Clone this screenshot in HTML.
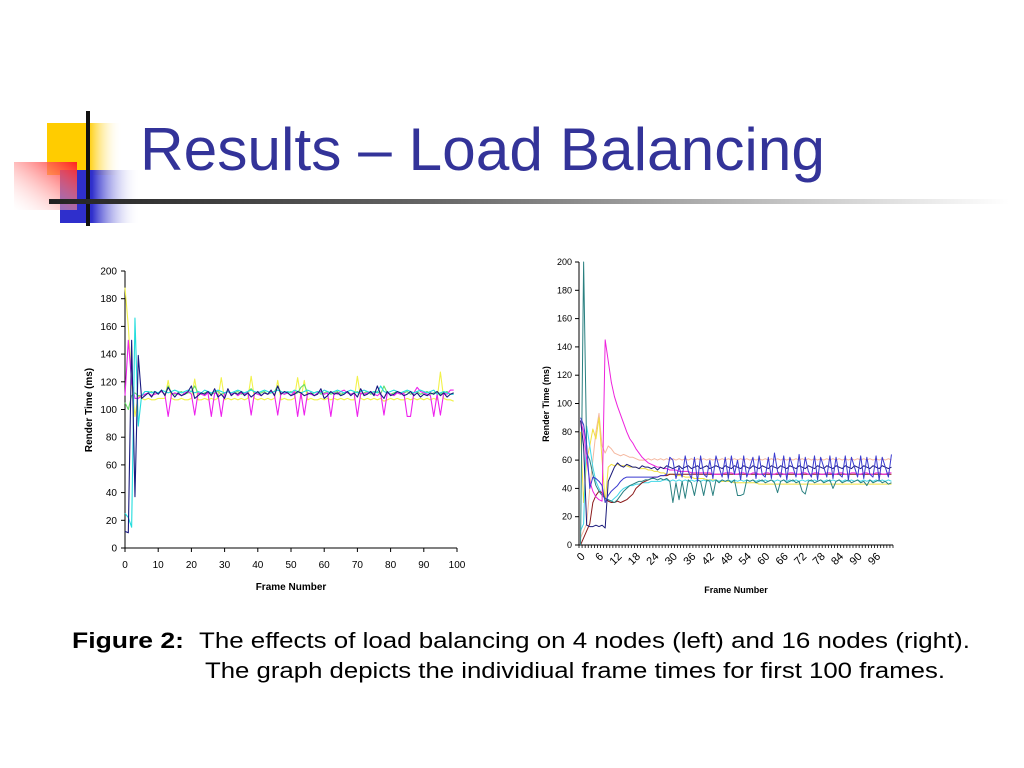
<!DOCTYPE html>
<html><head><meta charset="utf-8"><style>
html,body{margin:0;padding:0;background:#fff;}
svg{display:block;font-family:"Liberation Sans",Arial,sans-serif;}
</style></head><body>
<svg id="page" width="1024" height="768" viewBox="0 0 1024 768">
<defs>
<linearGradient id="gy" x1="0" x2="1"><stop offset="0" stop-color="#ffcc00"/><stop offset="0.55" stop-color="#ffcc00"/><stop offset="1" stop-color="#fff" stop-opacity="0"/></linearGradient>
<linearGradient id="gr" x1="1" y1="0" x2="0" y2="1"><stop offset="0" stop-color="#ff2020"/><stop offset="1" stop-color="#fff" stop-opacity="0.2"/></linearGradient>
<linearGradient id="gb" x1="0" x2="1"><stop offset="0" stop-color="#2f2fcc"/><stop offset="0.4" stop-color="#2f2fcc"/><stop offset="1" stop-color="#fff" stop-opacity="0"/></linearGradient>
<linearGradient id="gl" x1="0" x2="1"><stop offset="0" stop-color="#222"/><stop offset="0.4" stop-color="#666"/><stop offset="1" stop-color="#fff"/></linearGradient>
</defs>
<g>
<rect x="47" y="123" width="75" height="52" fill="url(#gy)"/>
<rect x="60" y="170" width="80" height="53" fill="url(#gb)"/>
<rect x="14" y="162" width="63" height="48" fill="url(#gr)"/>
<rect x="86" y="111" width="4" height="115" fill="#111"/>
</g>
<rect x="49" y="199" width="960" height="5" fill="url(#gl)"/>
<text x="140" y="170" font-size="60" fill="#333399" textLength="685" lengthAdjust="spacingAndGlyphs">Results – Load Balancing</text>
<g id="left"></g>
<g id="right"></g>
<text x="72" y="648" font-size="22" fill="#000"><tspan font-weight="bold" textLength="112" lengthAdjust="spacingAndGlyphs">Figure 2:</tspan><tspan x="199" textLength="771" lengthAdjust="spacingAndGlyphs">The effects of load balancing on 4 nodes (left) and 16 nodes (right).</tspan></text>
<text x="205" y="678" font-size="22" fill="#000" textLength="740" lengthAdjust="spacingAndGlyphs">The graph depicts the individiual frame times for first 100 frames.</text>
</svg>
<script>
const leftYTicks=[0,20,40,60,80,100,120,140,160,180,200];
const leftXTicks=[0,10,20,30,40,50,60,70,80,90,100];
const leftYellow=[188,160,120,95,110,108,107,108,107,107,108,108,108,121,108,107,107,108,107,107,108,122,107,107,108,107,108,107,108,123,107,108,107,108,107,108,107,108,124,108,107,108,107,108,107,108,121,107,108,107,107,108,123,108,121,107,108,107,107,108,107,108,107,108,107,108,107,108,107,107,124,108,107,108,107,108,107,108,106,107,108,107,108,107,107,108,107,108,107,108,107,108,107,108,107,127,108,107,107,106];
const leftGreen=[105,100,110,112,110,110,111,112,113,111,112,113,111,117,112,111,112,113,111,112,113,117,112,111,112,113,111,112,113,111,112,113,111,112,113,111,112,113,115,112,111,112,113,111,112,113,117,112,111,112,113,111,112,116,118,112,111,112,113,111,112,113,111,112,113,111,112,113,111,112,113,111,112,113,111,112,113,111,117,112,111,112,113,111,112,113,111,112,113,111,112,113,111,112,113,111,112,113,111,112];
const leftMagenta=[110,150,120,108,108,110,111,112,110,111,112,113,111,95,111,112,111,110,112,113,111,96,112,111,110,112,95,112,111,95,112,113,111,112,110,112,111,113,96,112,111,110,112,111,113,111,96,112,111,112,110,113,95,112,96,112,111,110,112,113,111,112,95,112,111,113,114,112,111,112,95,112,111,112,113,111,110,112,96,112,111,110,112,111,112,95,95,112,116,113,112,111,110,95,111,96,112,111,114,114];
const leftCyan=[25,22,15,166,88,110,113,113,112,113,112,114,113,112,113,114,113,112,113,114,113,112,113,112,114,113,112,113,114,113,112,113,112,113,114,113,112,113,114,113,112,113,114,113,112,113,114,113,112,113,112,114,113,112,113,114,113,112,113,112,114,113,112,113,114,113,112,113,114,113,112,113,114,113,112,113,112,117,113,112,113,114,113,112,113,114,113,112,113,114,113,112,113,114,111,112,113,112,111,111];
const leftNavy=[12,11,150,37,139,108,110,112,109,113,111,114,110,116,112,109,112,110,111,113,117,108,110,112,111,113,110,115,109,111,108,115,110,112,111,113,110,112,109,111,113,110,112,111,114,110,117,111,113,112,110,111,113,112,110,111,112,110,111,115,108,110,113,111,112,110,111,113,110,112,109,115,110,111,113,110,117,111,108,113,110,111,113,112,110,111,113,110,112,109,111,110,112,111,113,110,112,109,111,112];

const rightYTicks=[0,20,40,60,80,100,120,140,160,180,200];
const rightCategoryCount=102;
const rightXLabelStep=6;
const rTeal=[0,200,65,60,50,42,38,35,33,32,31,30,32,35,38,40,42,43,44,45,45,46,46,47,47,46,47,46,47,45,30,44,32,45,33,46,44,35,46,45,35,46,45,35,46,44,46,45,46,44,46,35,35,36,46,45,46,44,45,46,44,45,46,44,37,45,46,44,45,46,44,45,38,36,45,46,44,45,46,44,45,46,40,45,46,44,45,46,44,45,46,44,45,42,46,44,45,46,44,45,43,44];
const rPink=[5,10,15,40,60,80,93,70,65,70,68,65,64,63,64,63,62,62,61,60,60,60,61,60,61,60,61,60,61,60,61,60,61,60,61,60,61,60,61,60,61,60,61,60,61,60,61,60,61,60,61,60,61,60,61,60,61,60,61,60,61,60,61,60,61,60,61,60,61,60,61,60,61,60,61,60,61,60,61,60,61,60,61,60,61,60,61,60,61,60,61,60,61,60,61,60,61,60,61,60,61,60];
const rYellow=[80,30,60,70,82,75,90,60,30,55,57,56,57,56,56,56,55,55,55,54,54,54,53,53,52,52,51,51,50,50,50,49,49,49,48,48,48,47,47,47,47,46,46,46,46,45,45,45,45,45,44,44,44,44,44,44,44,44,43,43,43,43,43,43,43,43,43,43,43,43,43,43,43,43,43,43,43,43,43,43,43,43,43,43,43,43,43,43,43,43,43,43,43,43,43,43,43,43,43,43,43,43];
const rCyan=[10,15,84,70,55,45,40,36,33,32,31,33,35,38,40,41,42,42,43,43,44,44,44,45,45,45,45,46,46,45,46,45,46,45,46,45,46,45,46,45,46,45,46,45,46,45,46,45,46,45,46,45,46,45,46,45,46,45,46,45,46,45,46,45,46,45,46,45,46,45,46,45,46,45,46,45,46,45,46,45,46,45,46,45,46,45,46,45,46,45,46,45,46,45,46,45,46,45,46,45,46,45];
const rDarkRed=[0,5,10,15,30,35,38,37,33,31,30,30,31,30,31,32,34,36,40,42,44,45,46,47,48,48,49,49,49,50,50,50,50,50,50,50,50,50,50,50,50,50,50,50,50,50,50,50,50,50,50,50,50,50,50,50,50,50,50,50,50,50,50,50,50,50,50,50,50,50,50,50,50,50,50,50,50,50,50,50,50,50,50,50,50,50,50,50,50,50,50,50,50,50,50,50,50,50,50,50,50,50];
const rMagenta=[88,80,60,45,38,34,32,31,145,130,115,105,98,92,86,80,75,72,68,65,62,60,58,57,56,55,55,54,54,53,53,53,52,52,52,52,51,51,51,51,51,51,51,50,50,50,50,51,51,51,50,50,51,51,50,50,51,51,50,50,51,51,50,50,51,51,50,50,51,51,50,50,51,51,50,50,51,51,50,50,51,51,50,50,51,51,50,50,51,51,50,50,51,51,50,50,51,51,50,50,51,51];
const rNavy=[88,70,14,13,13,14,13,14,12,45,50,55,58,56,55,57,56,55,55,54,56,55,55,54,55,53,55,54,56,55,54,55,56,54,55,56,54,55,56,54,55,56,54,55,56,55,54,56,55,54,56,55,54,56,55,54,56,55,54,56,55,54,56,55,54,56,55,54,56,55,54,56,55,54,56,55,54,56,55,54,56,55,54,56,55,54,56,55,54,56,55,54,56,55,54,56,55,54,56,55,54,55];
const rBlue=[90,85,70,40,48,47,45,42,30,35,38,40,42,45,47,48,48,48,48,48,48,48,48,48,48,48,49,49,50,62,60,47,55,48,63,52,47,62,45,63,50,48,60,47,63,55,48,62,47,63,50,60,46,63,48,55,62,47,63,50,48,62,47,65,52,48,63,46,62,55,48,64,47,62,52,48,63,46,62,55,48,63,47,62,50,48,63,46,62,55,48,63,47,62,50,48,63,46,62,55,48,64];

const NS='http://www.w3.org/2000/svg';
function mk(tag,attrs,parent){const e=document.createElementNS(NS,tag);for(const k in attrs)e.setAttribute(k,attrs[k]);parent.appendChild(e);return e;}

(function(){
const g=document.getElementById('left');
const x0=125,x1=457,y0=548,y1=271;
const xs=v=>x0+(v/100)*(x1-x0);
const ys=v=>y0-(v/200)*(y0-y1);
let ax=mk('path',{d:`M${x0},${y1}V${y0}H${x1}`,stroke:'#000','stroke-width':1,fill:'none'},g);


leftYTicks.forEach(t=>{
 let l=mk('line',{x1:x0-4,x2:x0,y1:ys(t),y2:ys(t),stroke:'#000'},g);
 
 
 let tx=mk('text',{x:x0-8,y:ys(t)+3.5,'font-size':10,'text-anchor':'end'},g);tx.textContent=t;
 
 
});
leftXTicks.forEach(t=>{
 let l=mk('line',{x1:xs(t),x2:xs(t),y1:y0,y2:y0+4,stroke:'#000'},g);
 
 
 let tx=mk('text',{x:xs(t),y:y0+20,'font-size':10,'text-anchor':'middle'},g);tx.textContent=t;
 
 
});
let yt=mk('text',{x:0,y:0,'font-size':10,'font-weight':'bold','text-anchor':'middle',transform:`translate(92,410) rotate(-90)`},g);yt.textContent='Render Time (ms)';


let xt=mk('text',{x:291,y:590,'font-size':10,'font-weight':'bold','text-anchor':'middle'},g);xt.textContent='Frame Number';


const series=[[leftYellow,'#f2f24a'],[leftGreen,'#66dd66'],[leftMagenta,'#ee22ee'],[leftCyan,'#22dddd'],[leftNavy,'#1a1a80']];
series.forEach(([d,c])=>{
 let p=mk('polyline',{points:d.map((v,i)=>xs(i)+','+ys(v)).join(' '),fill:'none',stroke:c,'stroke-width':1.1,'stroke-linejoin':'round'},g);
 
 
});
})();

(function(){
const g=document.getElementById('right');
const x0=579,x1=893,y0=545,y1=262;
const band=(x1-x0)/rightCategoryCount;
const xs=i=>x0+(i+0.5)*band;
const ys=v=>y0-(v/200)*(y0-y1);
let ax=mk('path',{d:`M${x0},${y1}V${y0}H${x1}`,stroke:'#000','stroke-width':1,fill:'none'},g);


rightYTicks.forEach(t=>{
 let l=mk('line',{x1:x0-4,x2:x0,y1:ys(t),y2:ys(t),stroke:'#000'},g);
 
 
 let tx=mk('text',{x:x0-7,y:ys(t)+3,'font-size':9,'text-anchor':'end'},g);tx.textContent=t;
 
 
});
for(let i=0;i<=rightCategoryCount;i++){
 let l=mk('line',{x1:x0+i*band,x2:x0+i*band,y1:y0,y2:y0+3,stroke:'#000','stroke-width':0.8},g);
 
 
}
for(let i=0;i<rightCategoryCount;i+=rightXLabelStep){
 if(i>96)break;
 let tx=mk('text',{x:0,y:0,'font-size':11,'text-anchor':'end',transform:`translate(${xs(i)+5},${y0+12}) rotate(-45)`},g);tx.textContent=i;
 
 
}
let yt=mk('text',{x:0,y:0,'font-size':9,'font-weight':'bold','text-anchor':'middle',transform:`translate(549,404) rotate(-90)`},g);yt.textContent='Render Time (ms)';


let xt=mk('text',{x:736,y:593,'font-size':9,'font-weight':'bold','text-anchor':'middle'},g);xt.textContent='Frame Number';


const series=[[rPink,'#f5b8a0'],[rYellow,'#f0e040'],[rCyan,'#40d8e8'],[rDarkRed,'#8b1a1a'],[rTeal,'#2a8080'],[rMagenta,'#ee22dd'],[rNavy,'#1a1a7a'],[rBlue,'#3a3ad0']];
series.forEach(([d,c])=>{
 let p=mk('polyline',{points:d.map((v,i)=>xs(i)+','+ys(v)).join(' '),fill:'none',stroke:c,'stroke-width':1,'stroke-linejoin':'round'},g);
 
 
});
})();
</script>
</body></html>
